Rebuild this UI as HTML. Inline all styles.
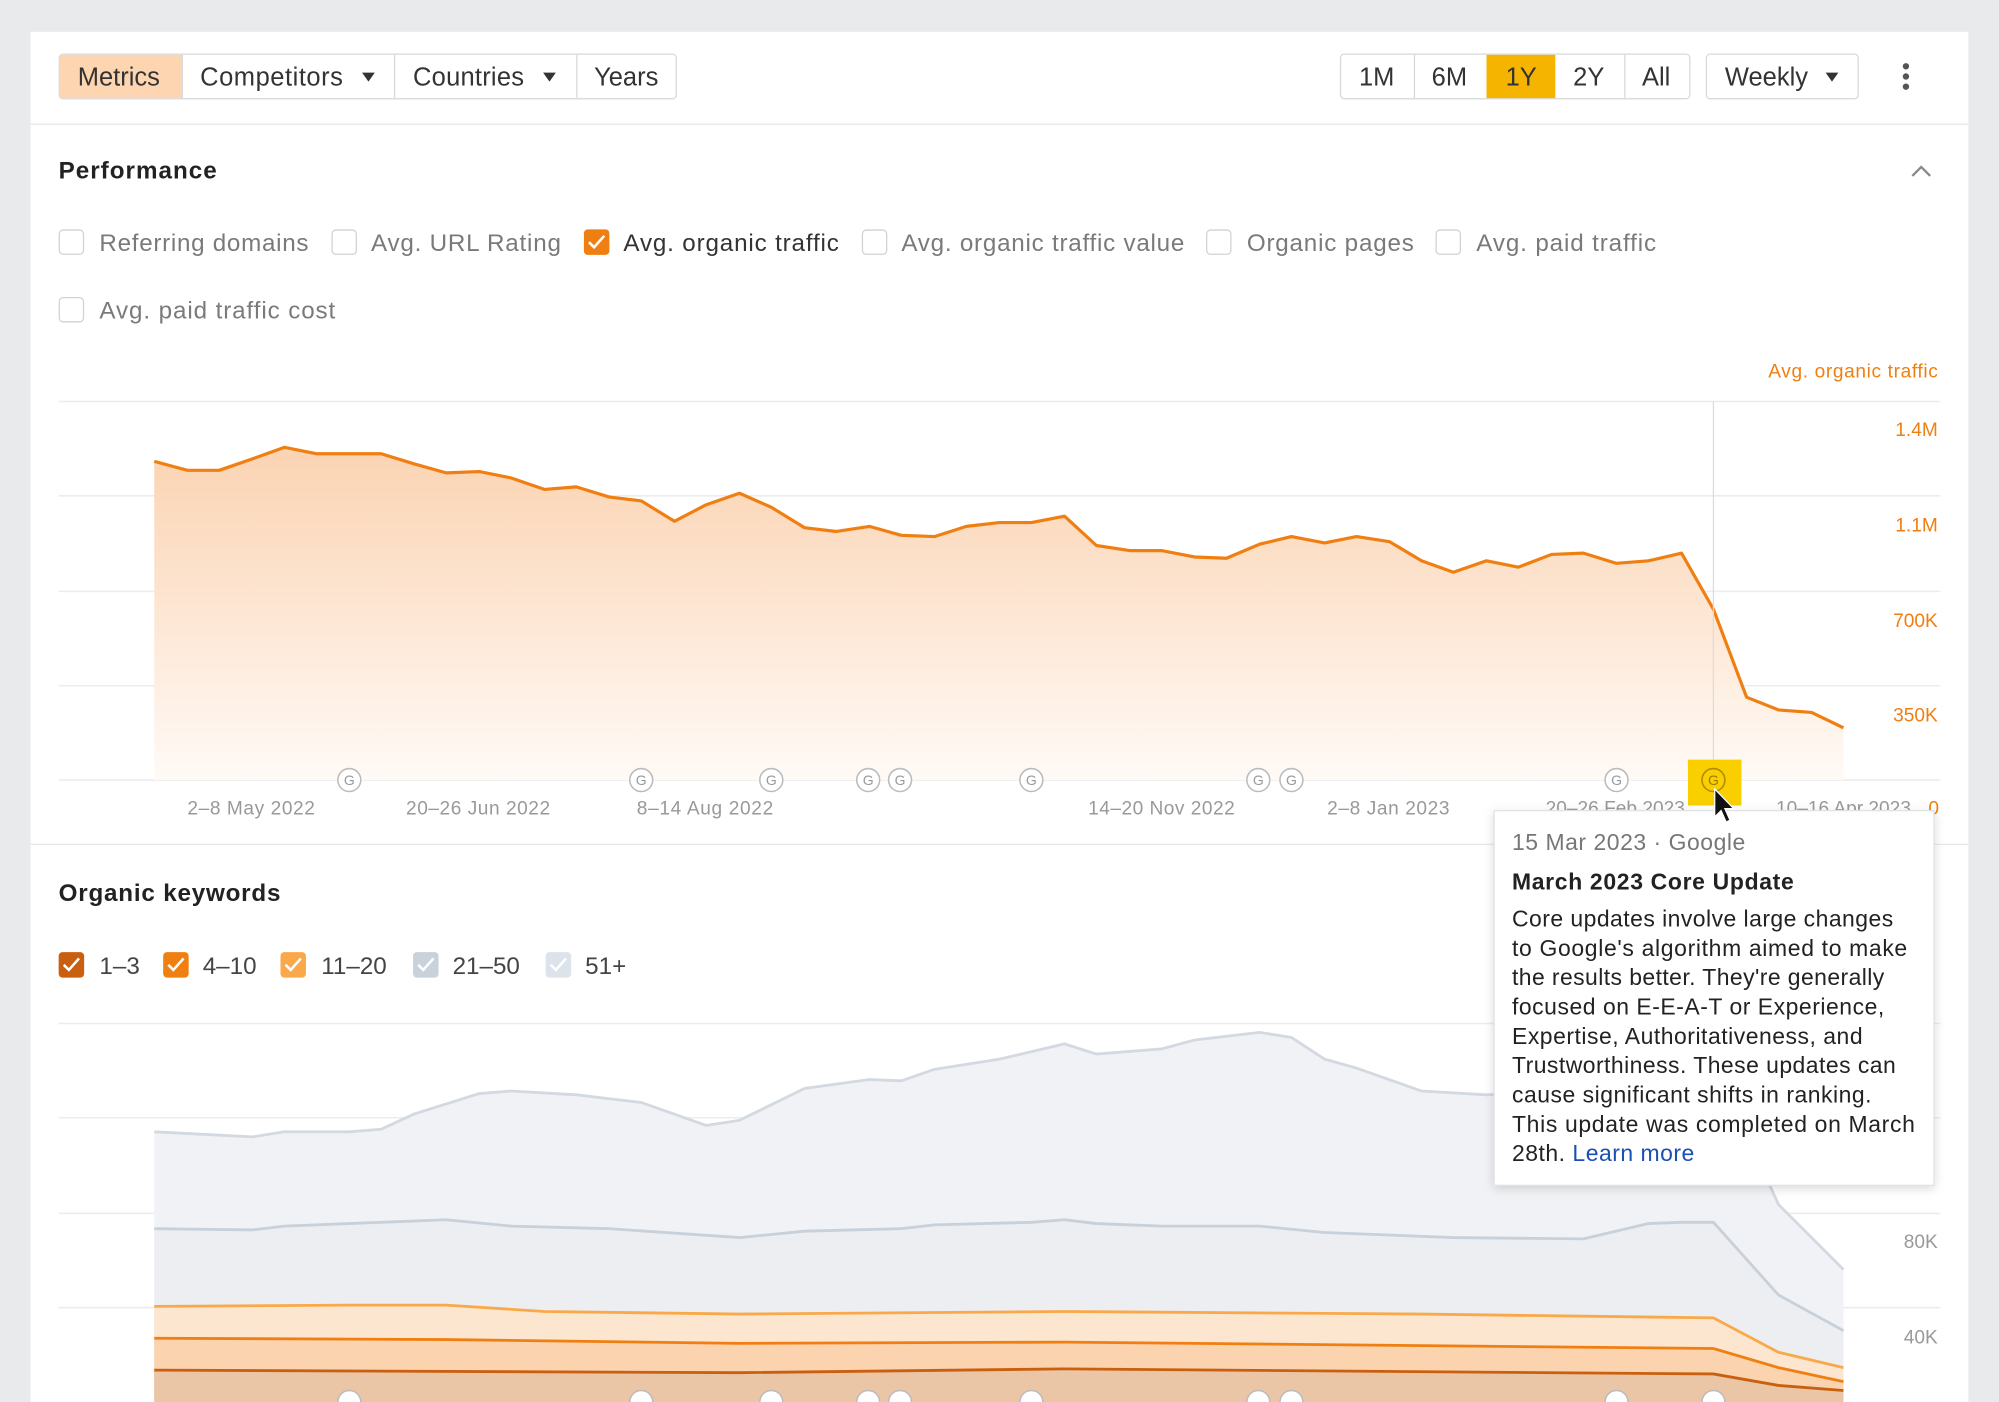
<!DOCTYPE html>
<html><head><meta charset="utf-8"><style>
html,body{margin:0;padding:0;background:#e9eaec;overflow:hidden}
svg{display:block}
text{font-family:"Liberation Sans",Arial,sans-serif}
</style></head><body>
<svg width="1999" height="1402" viewBox="0 0 1568 1100" preserveAspectRatio="none" xmlns="http://www.w3.org/2000/svg">
<defs>
<linearGradient id="og" x1="0" y1="0" x2="0" y2="1"><stop offset="0" stop-color="#fbd3b2"/><stop offset="1" stop-color="#fffaf6"/></linearGradient>
<filter id="sh" x="-10%" y="-10%" width="120%" height="120%"><feDropShadow dx="0" dy="2" stdDeviation="4" flood-color="#000" flood-opacity="0.15"/></filter>
</defs>
<rect x="0" y="0" width="1568" height="1100" fill="#e9eaec"/>
<rect x="24" y="25" width="1520" height="1080" fill="#fff"/>
<g font-size="20" fill="#333">
<rect x="46.5" y="42.5" width="484" height="35" rx="3" fill="#fff" stroke="#d6d8dc"/>
<rect x="47" y="43" width="96" height="34" fill="#fdd6b1"/>
<line x1="143" y1="43" x2="143" y2="77" stroke="#d6d8dc"/><line x1="309.5" y1="43" x2="309.5" y2="77" stroke="#d6d8dc"/><line x1="452.5" y1="43" x2="452.5" y2="77" stroke="#d6d8dc"/>
<text x="61" y="67">Metrics</text>
<text x="157" y="67" textLength="112">Competitors</text><path d="M284 57h10l-5 7z" fill="#333"/>
<text x="324" y="67" textLength="87">Countries</text><path d="M426 57h10l-5 7z" fill="#333"/>
<text x="466" y="67">Years</text>
<rect x="1051.5" y="42.5" width="274" height="35" rx="3" fill="#fff" stroke="#d6d8dc"/>
<rect x="1166" y="43" width="54" height="34" fill="#f5b400"/>
<line x1="1109.5" y1="43" x2="1109.5" y2="77" stroke="#d6d8dc"/><line x1="1274.5" y1="43" x2="1274.5" y2="77" stroke="#d6d8dc"/>
<text x="1066" y="67">1M</text><text x="1123" y="67">6M</text><text x="1181" y="67">1Y</text><text x="1234" y="67">2Y</text><text x="1288" y="67">All</text>
<rect x="1338.5" y="42.5" width="119" height="35" rx="3" fill="#fff" stroke="#d6d8dc"/>
<text x="1353" y="67">Weekly</text><path d="M1432 57h10l-5 7z" fill="#333"/>
<circle cx="1495" cy="52" r="2.5" fill="#555"/><circle cx="1495" cy="60" r="2.5" fill="#555"/><circle cx="1495" cy="68" r="2.5" fill="#555"/>
</g>
<line x1="24" y1="97.5" x2="1544" y2="97.5" stroke="#e6e7ea"/>
<text x="46" y="140" font-size="19" font-weight="bold" fill="#222" textLength="124">Performance</text>
<path d="M1500 138l7-7 7 7" fill="none" stroke="#888" stroke-width="1.8"/>
<g font-size="19" fill="#7a7a7a">
<rect x="46.5" y="180.5" width="19" height="19" rx="3" fill="#fff" stroke="#cfd2d6"/><text x="78" y="197" textLength="164">Referring domains</text>
<rect x="260.5" y="180.5" width="19" height="19" rx="3" fill="#fff" stroke="#cfd2d6"/><text x="291" y="197" textLength="149">Avg. URL Rating</text>
<rect x="458" y="180" width="20" height="20" rx="3" fill="#f07f12"/><path d="M462 190l4 4 8-9" fill="none" stroke="#fff" stroke-width="2"/><text x="489" y="197" fill="#333" textLength="169">Avg. organic traffic</text>
<rect x="676.5" y="180.5" width="19" height="19" rx="3" fill="#fff" stroke="#cfd2d6"/><text x="707" y="197" textLength="222">Avg. organic traffic value</text>
<rect x="946.5" y="180.5" width="19" height="19" rx="3" fill="#fff" stroke="#cfd2d6"/><text x="978" y="197" textLength="131">Organic pages</text>
<rect x="1126.5" y="180.5" width="19" height="19" rx="3" fill="#fff" stroke="#cfd2d6"/><text x="1158" y="197" textLength="141">Avg. paid traffic</text>
<rect x="46.5" y="233.5" width="19" height="19" rx="3" fill="#fff" stroke="#cfd2d6"/><text x="78" y="250" textLength="185">Avg. paid traffic cost</text>
</g>
<text x="1520" y="296" font-size="15" fill="#f07f12" text-anchor="end" textLength="133">Avg. organic traffic</text>
<g stroke="#ececee" stroke-width="1.2"><line x1="46" y1="315" x2="1522" y2="315"/><line x1="46" y1="389" x2="1522" y2="389"/><line x1="46" y1="464" x2="1522" y2="464"/><line x1="46" y1="538" x2="1522" y2="538"/><line x1="46" y1="612" x2="1522" y2="612"/></g>
<path d="M121,362 147,369 172,369 198,360 223,351 248,356 274,356 299,356 325,364 350,371 376,370 401,375 427,384 452,382 478,390 503,393 529,409 554,396 580,387 605,398 631,414 656,417 682,413 707,420 733,421 758,413 784,410 809,410 835,405 860,428 886,432 911,432 937,437 962,438 988,427 1013,421 1039,426 1064,421 1090,425 1115,440 1140,449 1166,440 1191,445 1217,435 1242,434 1268,442 1293,440 1319,434 1344,478 1370,547 1395,557 1421,559 1446,571 L1446,612 L121,612Z" fill="url(#og)"/>
<polyline points="121,362 147,369 172,369 198,360 223,351 248,356 274,356 299,356 325,364 350,371 376,370 401,375 427,384 452,382 478,390 503,393 529,409 554,396 580,387 605,398 631,414 656,417 682,413 707,420 733,421 758,413 784,410 809,410 835,405 860,428 886,432 911,432 937,437 962,438 988,427 1013,421 1039,426 1064,421 1090,425 1115,440 1140,449 1166,440 1191,445 1217,435 1242,434 1268,442 1293,440 1319,434 1344,478 1370,547 1395,557 1421,559 1446,571" fill="none" stroke="#f07f12" stroke-width="2.5" stroke-linejoin="round"/>
<line x1="1344" y1="315" x2="1344" y2="612" stroke="#dcdcdc"/>
<g font-size="15" fill="#f07f12" text-anchor="end"><text x="1520" y="342">1.4M</text><text x="1520" y="417">1.1M</text><text x="1520" y="492">700K</text><text x="1520" y="566">350K</text><text x="1521" y="639">0</text></g>
<rect x="1324" y="596" width="42" height="36" fill="#f9cf00"/>
<g fill="#fff" stroke="#bbb" stroke-width="1.2">
<circle cx="274" cy="612" r="9"/><circle cx="503" cy="612" r="9"/><circle cx="605" cy="612" r="9"/><circle cx="681" cy="612" r="9"/><circle cx="706" cy="612" r="9"/><circle cx="809" cy="612" r="9"/><circle cx="987" cy="612" r="9"/><circle cx="1013" cy="612" r="9"/><circle cx="1268" cy="612" r="9"/><circle cx="1344" cy="612" r="9" fill="#f9cf00" stroke="#b08a00"/>
</g>
<g font-size="11" fill="#999" text-anchor="middle">
<text x="274" y="616">G</text><text x="503" y="616">G</text><text x="605" y="616">G</text><text x="681" y="616">G</text><text x="706" y="616">G</text><text x="809" y="616">G</text><text x="987" y="616">G</text><text x="1013" y="616">G</text><text x="1268" y="616">G</text><text x="1344" y="616" fill="#a07a00">G</text>
</g>
<g font-size="15" fill="#999" text-anchor="middle">
<text x="197" y="639" textLength="100">2–8 May 2022</text><text x="375" y="639" textLength="113">20–26 Jun 2022</text><text x="553" y="639" textLength="107">8–14 Aug 2022</text><text x="911" y="639" textLength="115">14–20 Nov 2022</text><text x="1089" y="639" textLength="96">2–8 Jan 2023</text><text x="1267" y="639">20–26 Feb 2023</text><text x="1446" y="639">10–16 Apr 2023</text>
</g>
<line x1="24" y1="662.5" x2="1544" y2="662.5" stroke="#e6e7ea"/>
<text x="46" y="707" font-size="19" font-weight="bold" fill="#222" textLength="174">Organic keywords</text>
<g font-size="19" fill="#444">
<rect x="46" y="747" width="20" height="20" rx="3" fill="#c8600f"/><path d="M50 757l4 4 8-9" fill="none" stroke="#fff" stroke-width="2"/><text x="78" y="764">1–3</text>
<rect x="128" y="747" width="20" height="20" rx="3" fill="#f07f12"/><path d="M132 757l4 4 8-9" fill="none" stroke="#fff" stroke-width="2"/><text x="159" y="764">4–10</text>
<rect x="220" y="747" width="20" height="20" rx="3" fill="#f9a94a"/><path d="M224 757l4 4 8-9" fill="none" stroke="#fff" stroke-width="2"/><text x="252" y="764">11–20</text>
<rect x="324" y="747" width="20" height="20" rx="3" fill="#c9d1db"/><path d="M328 757l4 4 8-9" fill="none" stroke="#fff" stroke-width="2"/><text x="355" y="764">21–50</text>
<rect x="428" y="747" width="20" height="20" rx="3" fill="#dde3ea"/><path d="M432 757l4 4 8-9" fill="none" stroke="#fff" stroke-width="2"/><text x="459" y="764">51+</text>
</g>
<g stroke="#ececee" stroke-width="1.2"><line x1="46" y1="803" x2="1522" y2="803"/><line x1="46" y1="877" x2="1522" y2="877"/><line x1="46" y1="952" x2="1522" y2="952"/><line x1="46" y1="1026" x2="1522" y2="1026"/></g>
<path d="M121,888 198,892 223,888 274,888 299,886 325,874 376,858 401,856 452,859 503,865 554,883 580,879 631,854 682,847 707,848 733,839 784,831 835,819 860,827 911,823 937,816 988,810 1013,814 1039,831 1064,838 1115,856 1166,859 1191,858 1242,856 1293,852 1319,850 1344,860 1370,890 1395,945 1446,996 L1446,1100 L121,1100Z" fill="#f1f2f5"/>
<polyline points="121,888 198,892 223,888 274,888 299,886 325,874 376,858 401,856 452,859 503,865 554,883 580,879 631,854 682,847 707,848 733,839 784,831 835,819 860,827 911,823 937,816 988,810 1013,814 1039,831 1064,838 1115,856 1166,859 1191,858 1242,856 1293,852 1319,850 1344,860 1370,890 1395,945 1446,996" fill="none" stroke="#d3d9e1" stroke-width="2.2"/>
<path d="M121,964 198,965 223,962 274,960 350,957 401,962 478,964 580,971 631,966 707,964 733,961 809,959 835,957 860,960 911,962 988,962 1039,967 1140,971 1242,972 1293,960 1319,959 1344,959 1395,1016 1446,1044 L1446,1100 L121,1100Z" fill="#eceef2"/>
<polyline points="121,964 198,965 223,962 274,960 350,957 401,962 478,964 580,971 631,966 707,964 733,961 809,959 835,957 860,960 911,962 988,962 1039,967 1140,971 1242,972 1293,960 1319,959 1344,959 1395,1016 1446,1044" fill="none" stroke="#c8d0da" stroke-width="2.2"/>
<path d="M121,1025 274,1024 350,1024 427,1029 580,1031 835,1029 1115,1031 1344,1034 1395,1061 1446,1073 L1446,1100 L121,1100Z" fill="#fde6cf"/>
<polyline points="121,1025 274,1024 350,1024 427,1029 580,1031 835,1029 1115,1031 1344,1034 1395,1061 1446,1073" fill="none" stroke="#f9a94a" stroke-width="2.2"/>
<path d="M121,1050 350,1051 580,1054 835,1053 1344,1058 1395,1073 1446,1084 L1446,1100 L121,1100Z" fill="#fbd3ae"/>
<polyline points="121,1050 350,1051 580,1054 835,1053 1344,1058 1395,1073 1446,1084" fill="none" stroke="#f07f12" stroke-width="2.2"/>
<path d="M121,1075 580,1077 835,1074 1344,1078 1395,1087 1446,1091 L1446,1100 L121,1100Z" fill="#ebc6a6"/>
<polyline points="121,1075 580,1077 835,1074 1344,1078 1395,1087 1446,1091" fill="none" stroke="#c8600f" stroke-width="2.2"/>
<g fill="#fff" stroke="#bbb" stroke-width="1.2">
<circle cx="274" cy="1100" r="9"/><circle cx="503" cy="1100" r="9"/><circle cx="605" cy="1100" r="9"/><circle cx="681" cy="1100" r="9"/><circle cx="706" cy="1100" r="9"/><circle cx="809" cy="1100" r="9"/><circle cx="987" cy="1100" r="9"/><circle cx="1013" cy="1100" r="9"/><circle cx="1268" cy="1100" r="9"/><circle cx="1344" cy="1100" r="9"/>
</g>
<g font-size="15" fill="#999" text-anchor="end"><text x="1520" y="979">80K</text><text x="1520" y="1054">40K</text></g>
<rect x="1172" y="636" width="345" height="294" fill="#fff" stroke="#e2e2e2" filter="url(#sh)"/>
<g font-size="18" fill="#222">
<text x="1186" y="667" fill="#777" textLength="183">15 Mar 2023 · Google</text>
<text x="1186" y="698" font-weight="bold" textLength="221">March 2023 Core Update</text>
<text x="1186" y="727" textLength="299">Core updates involve large changes</text>
<text x="1186" y="750" textLength="310">to Google's algorithm aimed to make</text>
<text x="1186" y="773" textLength="292">the results better. They're generally</text>
<text x="1186" y="796" textLength="292">focused on E-E-A-T or Experience,</text>
<text x="1186" y="819" textLength="275">Expertise, Authoritativeness, and</text>
<text x="1186" y="842" textLength="301">Trustworthiness. These updates can</text>
<text x="1186" y="865" textLength="282">cause significant shifts in ranking.</text>
<text x="1186" y="888" textLength="316">This update was completed on March</text>
<text x="1186" y="911" textLength="143">28th. <tspan fill="#1a4fb5">Learn more</tspan></text>
</g>
<path d="M1345,619 l0,22 5,-5 4,9 3,-1.5 -4,-9 7,0z" fill="#111" stroke="#fff" stroke-width="1"/>
</svg>
</body></html>
